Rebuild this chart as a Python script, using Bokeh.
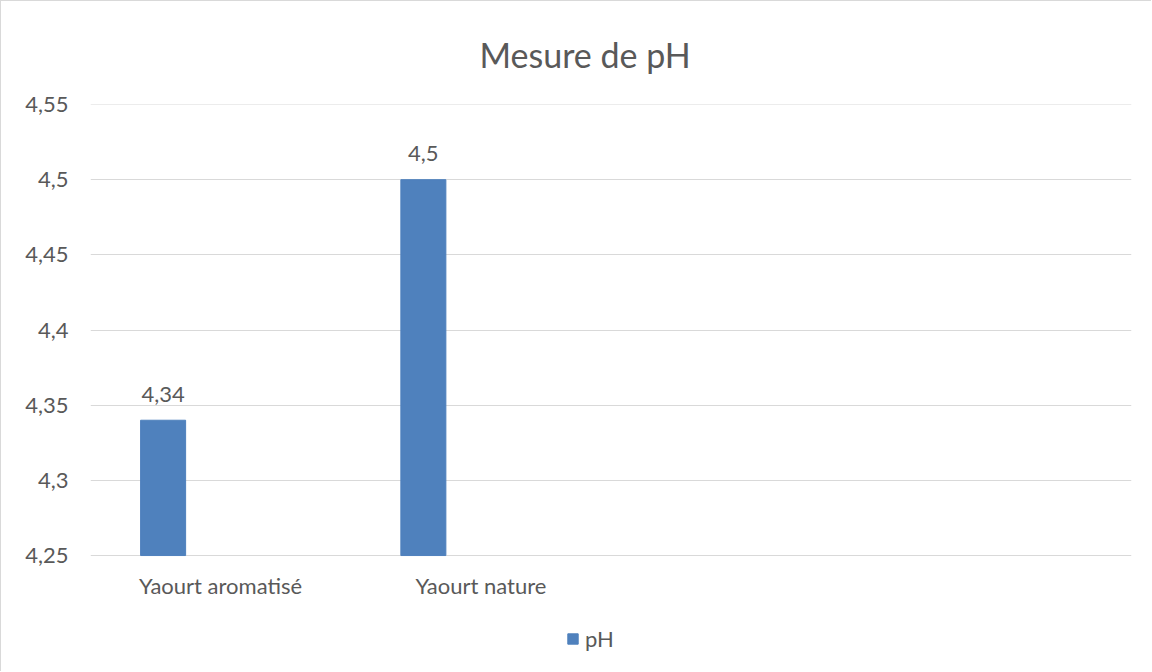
from bokeh.plotting import figure
from bokeh.models import ColumnDataSource, FactorRange, Range1d, FixedTicker, Legend, LegendItem, Span
from bokeh.transform import dodge
from bokeh.core.properties import value
from bokeh.embed import file_html
from bokeh.resources import INLINE

# ---- data ----
categories = ["Yaourt aromatisé", "Yaourt nature", " ", "  "]
bar_categories = ["Yaourt aromatisé", "Yaourt nature"]
ph_values = [4.34, 4.5]
ph_labels = ["4,34", "4,5"]
y_ticks = [4.25, 4.3, 4.35, 4.4, 4.45, 4.5, 4.55]
y_tick_labels = ["4,25", "4,3", "4,35", "4,4", "4,45", "4,5", "4,55"]
title_text = "Mesure de pH"
series_name = "pH"

FONT = "Lato"
TXT = "#595959"
GRID = "#d9d9d9"
BAR = "#4f81bd"
Y_VIEW_START = 4.1722   # extra room below the axis for category labels and legend

src = ColumnDataSource(dict(cat=bar_categories, val=ph_values, lab=ph_labels))
cat_src = ColumnDataSource(dict(cat=categories, y=[y_ticks[0]] * len(categories)))

p = figure(
    width=1151, height=671,
    x_range=FactorRange(*categories),
    y_range=Range1d(Y_VIEW_START, y_ticks[-1]),
    x_axis_location=None,
    output_backend="svg", toolbar_location=None,
    min_border_left=89, min_border_right=21, min_border_top=103, min_border_bottom=0,
)
p.styles = {"border-left": f"1px solid {GRID}", "border-top": f"1px solid {GRID}"}
p.outline_line_color = None
p.background_fill_color = "white"
p.border_fill_color = "white"

p.title.text = title_text
p.title.align = "left"
p.title.offset = 389
p.title.text_font = FONT
p.title.text_font_size = "34px"
p.title.text_font_style = "normal"
p.title.text_color = TXT
p.title.standoff = 60

r = p.vbar(x=dodge("cat", -0.221, range=p.x_range), top="val", bottom=y_ticks[0],
           width=0.173, source=src, fill_color=BAR, line_color=BAR)
p.text(x=dodge("cat", -0.221, range=p.x_range), y="val", text="lab", source=src,
       text_align="center", text_baseline="alphabetic", y_offset=-26,
       text_font=value(FONT), text_font_size="22px", text_color=TXT)

# category labels (x axis)
p.text(x="cat", y="y", text="cat", source=cat_src,
       text_align="center", text_baseline="alphabetic", y_offset=30,
       text_font=value(FONT), text_font_size="22px", text_color=TXT)

p.yaxis.ticker = FixedTicker(ticks=y_ticks)
p.yaxis.major_label_overrides = dict(zip(y_ticks, y_tick_labels))
p.yaxis.axis_line_color = None
p.yaxis.major_tick_line_color = None
p.yaxis.minor_tick_line_color = None
p.yaxis.major_label_standoff = 16
p.yaxis.major_label_text_font = FONT
p.yaxis.major_label_text_font_size = "22px"
p.yaxis.major_label_text_color = TXT
p.ygrid.ticker = FixedTicker(ticks=y_ticks)
p.ygrid.grid_line_color = GRID
p.xgrid.grid_line_color = None
p.add_layout(Span(location=y_ticks[-1], dimension="width", line_color=GRID, line_width=1))

legend = Legend(items=[LegendItem(label=series_name, renderers=[r])],
                location=(476, 20), orientation="horizontal",
                glyph_width=13, glyph_height=13, label_standoff=6,
                padding=0, margin=0, border_line_color=None, background_fill_alpha=0,
                label_text_font=FONT, label_text_font_size="22px", label_text_color=TXT)
p.add_layout(legend)

open("out.html", "w").write(file_html(p, INLINE))
